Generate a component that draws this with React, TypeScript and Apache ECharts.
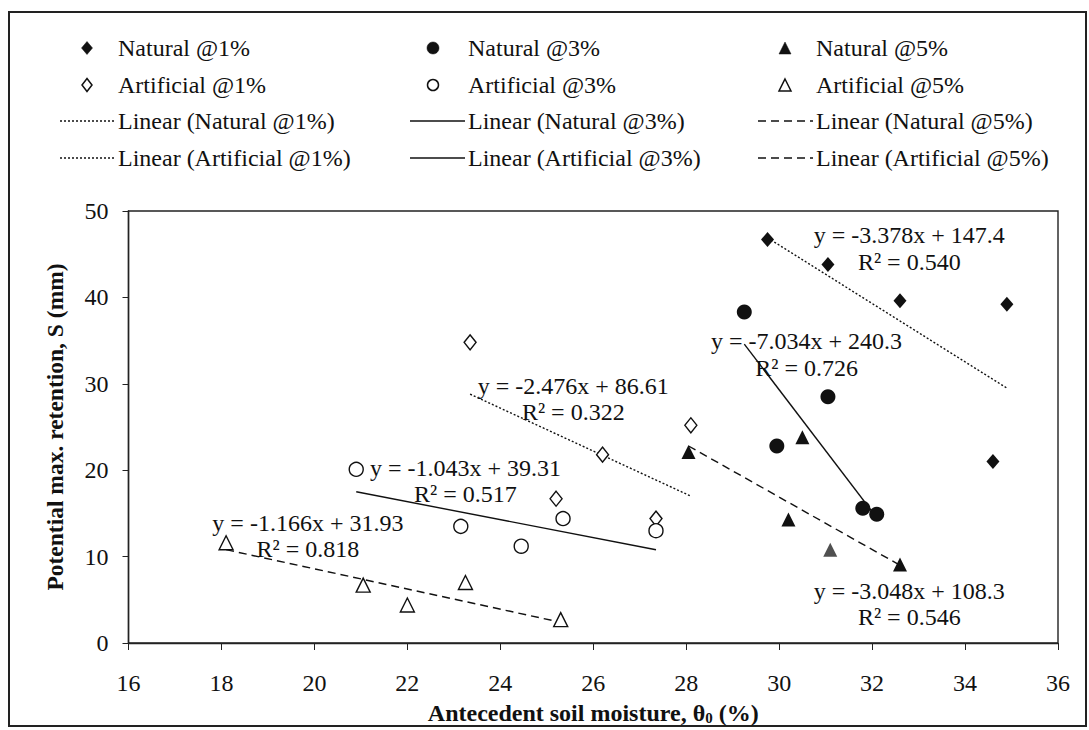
import React, { useEffect, useRef } from 'react';
import * as echarts from 'echarts';

const FONT = "'Liberation Serif', 'Times New Roman', serif";
const INK = '#111';

// axis ranges / ticks
const xAxisRange = { min: 16, max: 36, step: 2 };
const yAxisRange = { min: 0, max: 50, step: 10 };

// series names
const scatterNames = ['Natural @1%', 'Artificial @1%', 'Natural @3%', 'Artificial @3%', 'Natural @5%', 'Artificial @5%'];
const trendNames = [
  'Linear (Natural @1%)', 'Linear (Artificial @1%)',
  'Linear (Natural @3%)', 'Linear (Artificial @3%)',
  'Linear (Natural @5%)', 'Linear (Artificial @5%)',
];

// measured points [soil moisture %, S mm]
const natural1 = [[29.75, 46.7], [31.05, 43.8], [32.6, 39.6], [34.9, 39.2], [34.6, 21.0]];
const artificial1 = [[23.35, 34.8], [26.2, 21.8], [25.2, 16.7], [27.35, 14.4], [28.1, 25.2]];
const natural3 = [[29.25, 38.3], [31.05, 28.5], [29.95, 22.8], [31.8, 15.6], [32.1, 14.9]];
const artificial3 = [[20.9, 20.1], [23.15, 13.5], [24.45, 11.2], [25.35, 14.4], [27.35, 13.0]];
const natural5 = [[28.05, 22.1], [30.5, 23.8], [30.2, 14.3], [31.1, 10.8], [32.6, 9.1]];
const artificial5 = [[18.1, 11.6], [21.05, 6.7], [22.0, 4.4], [23.25, 7.0], [25.3, 2.7]];

// trend line end points
const trendNatural1 = [[29.75, 46.9], [34.9, 29.5]];
const trendArtificial1 = [[23.35, 28.8], [28.1, 17.0]];
const trendNatural3 = [[29.25, 34.6], [32.1, 14.5]];
const trendArtificial3 = [[20.9, 17.5], [27.35, 10.8]];
const trendNatural5 = [[28.05, 22.8], [32.6, 9.0]];
const trendArtificial5 = [[18.1, 10.8], [25.3, 2.4]];

// equation labels
const equationTexts = [
  'y = -3.378x + 147.4', 'R² = 0.540',
  'y = -7.034x + 240.3', 'R² = 0.726',
  'y = -3.048x + 108.3', 'R² = 0.546',
  'y = -2.476x + 86.61', 'R² = 0.322',
  'y = -1.043x + 39.31', 'R² = 0.517',
  'y = -1.166x + 31.93', 'R² = 0.818',
];
const equationAnchors = [
  [32.8, 47.2], [32.8, 44.1],
  [30.59, 34.95], [30.59, 31.85],
  [32.8, 6.05], [32.8, 3.05],
  [25.57, 29.7], [25.57, 26.7],
  [23.25, 20.3], [23.25, 17.3],
  [19.86, 13.9], [19.86, 10.9],
];

const scatterData = [natural1, artificial1, natural3, artificial3, natural5, artificial5];
const trendData = [trendNatural1, trendArtificial1, trendNatural3, trendArtificial3, trendNatural5, trendArtificial5];

const symbolFor = ['diamond', 'diamond', 'circle', 'circle', 'triangle', 'triangle'];
const sizeFor: any[] = [[13, 15], [12, 15], 15, 14, 14, 14];
const filled = [true, false, true, false, true, false];
const lineTypeFor: any[] = [[2, 2], [2, 2], 'solid', 'solid', [8, 5], [8, 5]];

// legend layout (pixels)
const legendColumnX = [60, 410, 758];
const legendSymbolX = [87, 433, 785];
const legendRowY = [48, 85, 121, 158];

function legendSymbol(kind: string, isFilled: boolean, cx: number, cy: number): any {
  const style = isFilled
    ? { fill: INK, stroke: INK, lineWidth: 0.5 }
    : { fill: '#fff', stroke: INK, lineWidth: 1.5 };
  if (kind === 'diamond') {
    const w = isFilled ? 11 : 10, h = 13;
    return { type: 'polygon', shape: { points: [[cx, cy - h / 2], [cx + w / 2, cy], [cx, cy + h / 2], [cx - w / 2, cy]] }, style };
  }
  if (kind === 'circle') {
    return { type: 'circle', shape: { cx, cy, r: isFilled ? 6 : 5.5 }, style };
  }
  const w = 12, h = 12;
  return { type: 'polygon', shape: { points: [[cx, cy - h / 2], [cx + w / 2, cy + h / 2], [cx - w / 2, cy + h / 2]] }, style };
}

export default function App() {
  const ref = useRef<HTMLDivElement>(null);
  useEffect(() => {
    if (!ref.current) return;
    const chart = echarts.init(ref.current, null, { renderer: 'svg' });

    const scatterSeries = scatterNames.map((name, i) => ({
      name,
      type: 'scatter',
      data: scatterData[i].map((p, j) =>
        name === 'Natural @5%' && j === 3 ? { value: p, itemStyle: { color: '#505050' } } : p
      ),
      symbol: symbolFor[i],
      symbolSize: sizeFor[i],
      itemStyle: filled[i]
        ? { color: INK, borderWidth: 0, opacity: 1 }
        : { color: '#fff', borderColor: INK, borderWidth: 1.4, opacity: 1 },
      z: 5,
      silent: true,
    }));

    const lineSeries = trendNames.map((name, i) => ({
      name,
      type: 'line',
      data: trendData[i],
      symbol: 'none',
      lineStyle: { color: INK, width: 1.4, type: lineTypeFor[i] },
      itemStyle: { color: INK },
      z: 3,
      silent: true,
    }));

    const option: any = {
      animation: false,
      backgroundColor: '#fff',
      grid: {
        left: 128.5, top: 211, right: 31, bottom: 80,
        show: true, borderColor: '#222', borderWidth: 1.4,
      },
      xAxis: {
        type: 'value',
        min: xAxisRange.min, max: xAxisRange.max, interval: xAxisRange.step,
        axisLine: { lineStyle: { color: '#222', width: 1.4 } },
        axisTick: { show: true, length: 7, lineStyle: { color: '#222' } },
        axisLabel: { fontFamily: FONT, fontSize: 24, color: INK, margin: 28 },
        splitLine: { show: false },
        name: 'Antecedent soil moisture, θ{sub|0} (%)',
        nameLocation: 'middle',
        nameGap: 58,
        nameTextStyle: {
          fontFamily: FONT, fontSize: 24, fontWeight: 'bold', color: INK,
          rich: { sub: { fontFamily: FONT, fontSize: 15, fontWeight: 'bold', color: INK, verticalAlign: 'bottom', padding: [9, 0, 0, 0] } },
        },
      },
      yAxis: {
        type: 'value',
        min: yAxisRange.min, max: yAxisRange.max, interval: yAxisRange.step,
        axisLine: { show: true, lineStyle: { color: '#222', width: 1.4 } },
        axisTick: { show: true, length: 6, lineStyle: { color: '#222' } },
        axisLabel: { fontFamily: FONT, fontSize: 24, color: INK, margin: 20 },
        splitLine: { show: false },
        name: 'Potential max. retention, S (mm)',
        nameLocation: 'middle',
        nameGap: 62,
        nameTextStyle: { fontFamily: FONT, fontSize: 23.5, fontWeight: 'bold', color: INK },
      },
      series: [...lineSeries, ...scatterSeries],
    };
    chart.setOption(option);

    const texts = equationTexts.map((t, i) => {
      const [px, py] = chart.convertToPixel({ xAxisIndex: 0, yAxisIndex: 0 }, equationAnchors[i]) as number[];
      return {
        type: 'text', x: px, y: py, z: 10,
        style: { text: t, fontFamily: FONT, fontSize: 24, fill: INK, align: 'center', verticalAlign: 'middle' },
      };
    });

    // legend: 3 columns (1%, 3%, 5%), rows: natural, artificial, linear natural, linear artificial
    const legendEls: any[] = [];
    for (let c = 0; c < 3; c++) {
      const x0 = legendColumnX[c];
      const names = [scatterNames[2 * c], scatterNames[2 * c + 1], trendNames[2 * c], trendNames[2 * c + 1]];
      for (let r = 0; r < 4; r++) {
        const cy = legendRowY[r];
        if (r < 2) {
          const si = 2 * c + r;
          legendEls.push({ ...legendSymbol(symbolFor[si], filled[si], legendSymbolX[c], cy), z: 10 });
        } else {
          const ti = 2 * c + (r - 2);
          const dash = lineTypeFor[ti];
          legendEls.push({
            type: 'line', z: 10,
            shape: { x1: x0, y1: cy, x2: x0 + 55, y2: cy },
            style: { stroke: INK, lineWidth: 1.4, lineDash: Array.isArray(dash) ? dash : null },
          });
        }
        legendEls.push({
          type: 'text', x: x0 + 58, y: cy, z: 10,
          style: { text: names[r], fontFamily: FONT, fontSize: 24, fill: INK, align: 'left', verticalAlign: 'middle' },
        });
      }
    }

    chart.setOption({
      graphic: [
        {
          type: 'rect',
          shape: { x: 9, y: 12, width: 1077, height: 714 },
          style: { fill: 'none', stroke: '#222', lineWidth: 2 },
          z: 0,
        },
        ...legendEls,
        ...texts,
      ],
    });

    return () => chart.dispose();
  }, []);
  return <div ref={ref} style={{ position: 'fixed', left: 0, top: 0, width: 1089, height: 730 }} />;
}
